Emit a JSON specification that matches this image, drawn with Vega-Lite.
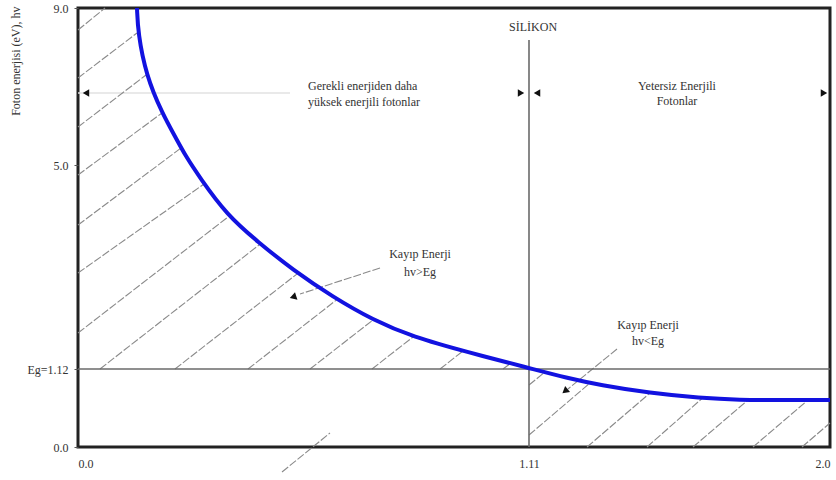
{
  "$schema": "https://vega.github.io/schema/vega-lite/v6.json",
  "width": 752,
  "height": 439,
  "autosize": {"type": "none"},
  "padding": {"left": 78, "top": 8, "right": 6, "bottom": 33},
  "config": {
    "font": "Liberation Serif",
    "view": {"stroke": "#222", "strokeWidth": 3},
    "axis": {"labelFont": "Liberation Serif", "titleFont": "Liberation Serif", "labelColor": "#333", "titleColor": "#333", "labelFontSize": 12, "titleFontSize": 12, "titleFontWeight": "normal", "grid": false, "domain": false, "tickColor": "#555", "tickSize": 4}
  },
  "datasets": {
    "curve": [
      {"x": 0.1452, "y": 9.0}, {"x": 0.1477, "y": 8.363}, {"x": 0.1674, "y": 7.293}, {"x": 0.2067, "y": 6.325},
      {"x": 0.2437, "y": 5.637}, {"x": 0.2634, "y": 5.255}, {"x": 0.3003, "y": 4.753}, {"x": 0.3667, "y": 4.049},
      {"x": 0.443, "y": 3.535}, {"x": 0.5292, "y": 3.003}, {"x": 0.6276, "y": 2.489}, {"x": 0.7261, "y": 2.052},
      {"x": 0.8245, "y": 1.729}, {"x": 0.9574, "y": 1.443}, {"x": 1.11, "y": 1.14}, {"x": 1.2224, "y": 0.991},
      {"x": 1.3199, "y": 0.89}, {"x": 1.4678, "y": 0.775}, {"x": 1.6156, "y": 0.704}, {"x": 1.7339, "y": 0.675},
      {"x": 1.85, "y": 0.675}, {"x": 2.0, "y": 0.675}
    ],
    "hatch": [
      {"x": 0, "y": 8.439, "x2": 0.0665, "y2": 9.0},
      {"x": 0, "y": 7.217, "x2": 0.1452, "y2": 8.363},
      {"x": 0, "y": 5.968, "x2": 0.1674, "y2": 7.293},
      {"x": 0, "y": 4.81, "x2": 0.2067, "y2": 6.325},
      {"x": 0, "y": 3.859, "x2": 0.2535, "y2": 5.433},
      {"x": 0, "y": 2.946, "x2": 0.3101, "y2": 4.639},
      {"x": 0, "y": 1.805, "x2": 0.3692, "y2": 4.011},
      {"x": 0.0541, "y": 1.12, "x2": 0.4489, "y2": 3.499},
      {"x": 0.2387, "y": 1.12, "x2": 0.541, "y2": 2.94},
      {"x": 0.4184, "y": 1.12, "x2": 0.6379, "y2": 2.444},
      {"x": 0.571, "y": 1.12, "x2": 0.7261, "y2": 2.052},
      {"x": 0.7236, "y": 1.12, "x2": 0.8245, "y2": 1.729},
      {"x": 0.891, "y": 1.12, "x2": 0.9476, "y2": 1.462},
      {"x": 1.046, "y": 1.12, "x2": 1.0657, "y2": 1.234},
      {"x": 0.5021, "y": -0.359, "x2": 0.6202, "y2": 0.201},
      {"x": 1.11, "y": 0.89, "x2": 1.1573, "y2": 1.077},
      {"x": 1.11, "y": 0.172, "x2": 1.2904, "y2": 0.919},
      {"x": 1.2815, "y": 0, "x2": 1.4678, "y2": 0.775},
      {"x": 1.4589, "y": 0, "x2": 1.6215, "y2": 0.696},
      {"x": 1.5949, "y": 0, "x2": 1.7575, "y2": 0.675},
      {"x": 1.7723, "y": 0, "x2": 1.9349, "y2": 0.675},
      {"x": 1.9172, "y": 0, "x2": 2.0, "y2": 0.345},
      {"x": 0.7433, "y": 3.041, "x2": 0.5464, "y2": 2.546},
      {"x": 1.3702, "y": 1.5, "x2": 1.2253, "y2": 0.833}
    ],
    "solid": [
      {"x": 0, "y": 1.12, "x2": 2.0, "y2": 1.12},
      {"x": 1.11, "y": 0, "x2": 1.11, "y2": 8.185}
    ],
    "faint": [
      {"x": 0, "y": 6.834, "x2": 0.5218, "y2": 6.834}
    ],
    "heads": [
      {"x": 0.0197, "y": 6.834, "kind": "left"},
      {"x": 1.0903, "y": 6.834, "kind": "right"},
      {"x": 1.1337, "y": 6.834, "kind": "left"},
      {"x": 1.9822, "y": 6.834, "kind": "right"},
      {"x": 0.5292, "y": 2.489, "kind": "a1"},
      {"x": 1.2164, "y": 0.804, "kind": "a2"}
    ],
    "labelsC": [
      {"x": 1.122, "y": 8.516, "text": "SİLİKON"},
      {"x": 1.5476, "y": 7.013, "text": "Yetersiz Enerjili"},
      {"x": 1.5476, "y": 6.631, "text": "Fotonlar"},
      {"x": 0.8418, "y": 3.3, "text": "Kayıp Enerji"},
      {"x": 0.8418, "y": 2.96, "text": "hv>Eg"},
      {"x": 1.4619, "y": 1.965, "text": "Kayıp Enerji"},
      {"x": 1.4619, "y": 1.66, "text": "hv<Eg"}
    ],
    "labelsL": [
      {"x": 0.5661, "y": 7.013, "text": "Gerekli enerjiden daha"},
      {"x": 0.5661, "y": 6.605, "text": "yüksek enerjili fotonlar"}
    ]
  },
  "encoding": {
    "x": {
      "field": "x", "type": "quantitative",
      "scale": {"domain": [0, 1.11, 2.0], "range": [0, 451, 752], "nice": false, "zero": false},
      "axis": {"values": [0, 1.11, 2.0], "title": null, "ticks": false, "labelPadding": 11, "labelExpr": "datum.value == 0 ? '0.0' : (datum.value == 2 ? '2.0' : '1.11')"}
    },
    "y": {
      "field": "y", "type": "quantitative",
      "scale": {"domain": [0, 1.12, 5, 9], "range": [439, 361, 157, 0], "nice": false, "zero": false},
      "axis": {"values": [0, 1.12, 5, 9], "title": "Foton enerjisi (eV), hv", "titleAngle": 270, "titleX": -63, "titleY": -2, "titleAlign": "right", "titleBaseline": "middle", "labelPadding": 6, "labelExpr": "datum.value == 0 ? '0.0' : (datum.value == 9 ? '9.0' : (datum.value == 5 ? '5.0' : 'Eg=1.12'))"}
    }
  },
  "layer": [
    {"data": {"name": "faint"}, "mark": {"type": "rule", "color": "#e2e2e2", "strokeWidth": 1.5}, "encoding": {"x2": {"field": "x2"}, "y2": {"field": "y2"}}},
    {"data": {"name": "hatch"}, "mark": {"type": "rule", "color": "#8a8a8a", "strokeWidth": 1.1, "strokeDash": [8, 2]}, "encoding": {"x2": {"field": "x2"}, "y2": {"field": "y2"}}},
    {"data": {"name": "solid"}, "mark": {"type": "rule", "color": "#6a6a6a", "strokeWidth": 1.6}, "encoding": {"x2": {"field": "x2"}, "y2": {"field": "y2"}}},
    {"data": {"name": "curve"}, "mark": {"type": "line", "color": "#1212e0", "strokeWidth": 4, "interpolate": "basis"}},
    {"data": {"name": "heads"}, "transform": [{"filter": "datum.kind == 'left'"}], "mark": {"type": "point", "shape": "triangle-left", "filled": true, "color": "#111", "size": 55, "opacity": 1}},
    {"data": {"name": "heads"}, "transform": [{"filter": "datum.kind == 'right'"}], "mark": {"type": "point", "shape": "triangle-right", "filled": true, "color": "#111", "size": 55, "opacity": 1}},
    {"data": {"name": "heads"}, "transform": [{"filter": "datum.kind == 'a1'"}], "mark": {"type": "point", "shape": "triangle-right", "angle": 161.6, "filled": true, "color": "#111", "size": 60, "opacity": 1}},
    {"data": {"name": "heads"}, "transform": [{"filter": "datum.kind == 'a2'"}], "mark": {"type": "point", "shape": "triangle-right", "angle": 140.8, "filled": true, "color": "#111", "size": 60, "opacity": 1}},
    {"data": {"name": "labelsC"}, "mark": {"type": "text", "align": "center", "baseline": "middle", "fontSize": 12, "color": "#333", "font": "Liberation Serif"}, "encoding": {"text": {"field": "text"}}},
    {"data": {"name": "labelsL"}, "mark": {"type": "text", "align": "left", "baseline": "middle", "fontSize": 12, "color": "#333", "font": "Liberation Serif"}, "encoding": {"text": {"field": "text"}}}
  ]
}
